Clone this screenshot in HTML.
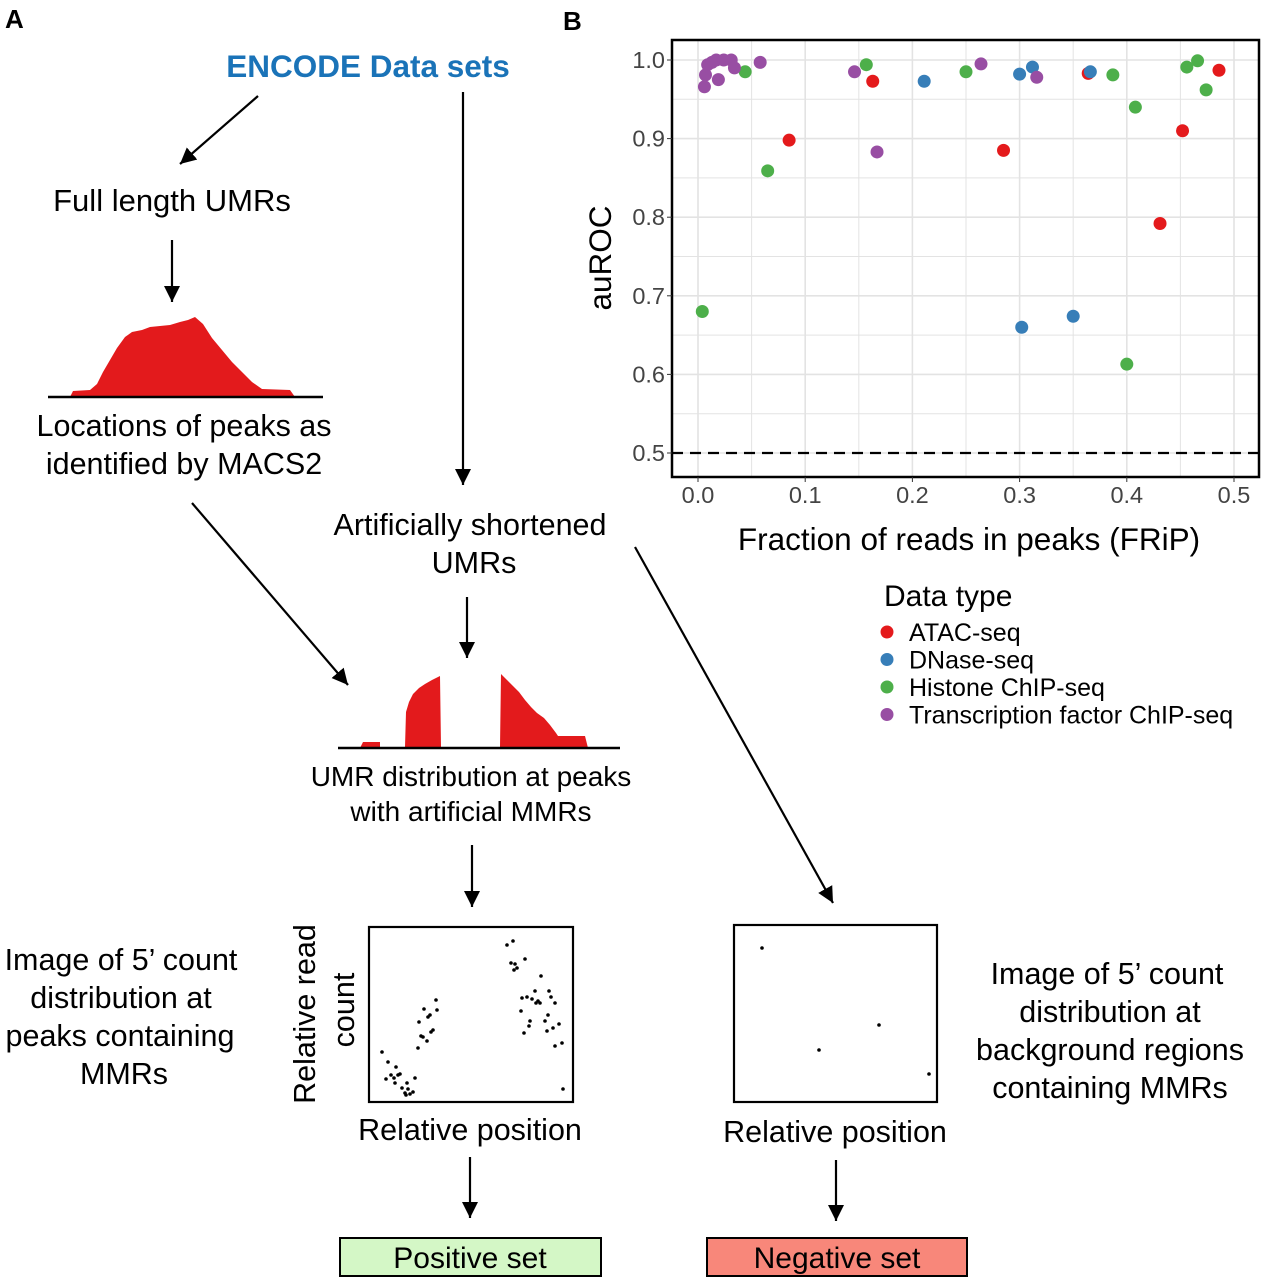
<!DOCTYPE html>
<html><head><meta charset="utf-8"><style>
body{margin:0;background:#fff}
svg{display:block;font-family:"Liberation Sans",Arial,sans-serif}
</style></head><body>
<svg id="fig" width="1263" height="1280" viewBox="0 0 1263 1280">
<defs>
<marker id="a2" viewBox="0 0 10 10" refX="10" refY="5" markerWidth="16" markerHeight="16" orient="auto" markerUnits="userSpaceOnUse"><path d="M0,0 L10,5 L0,10 Z" fill="#000"/></marker></defs>
<text x="5" y="28" font-size="26" font-weight="bold">A</text>
<text x="563" y="30" font-size="26" font-weight="bold">B</text>
<text x="368" y="77" font-size="31.5" font-weight="bold" fill="#1a73b8" text-anchor="middle">ENCODE Data sets</text>
<g stroke="#000" stroke-width="2.2" fill="none" marker-end="url(#a2)">
<line x1="258" y1="96" x2="180" y2="164"/><line x1="172" y1="240" x2="172" y2="302"/>
<line x1="463" y1="92" x2="463" y2="485"/><line x1="192" y1="503" x2="348" y2="685"/>
<line x1="467" y1="597" x2="467" y2="658"/><line x1="635" y1="547" x2="833" y2="903"/>
<line x1="472" y1="845" x2="472" y2="907"/><line x1="470" y1="1157" x2="470" y2="1218"/>
<line x1="836" y1="1160" x2="836" y2="1221"/></g>
<text x="172" y="211" font-size="31" text-anchor="middle">Full length UMRs</text>
<polygon fill="#e31a1c" points="70,397 73,391 90,390 97,384 103,372 110,360 117,348 125,337 132,332 142,330 150,327 160,326 170,325 180,322 188,320 195,317 203,324 212,338 222,350 232,362 242,372 252,382 262,389 290,390 295,397"/>
<line x1="48" y1="397" x2="323" y2="397" stroke="#000" stroke-width="2.5"/>
<text x="184" y="436" font-size="30.5" text-anchor="middle">Locations of peaks as</text>
<text x="184" y="474" font-size="30.5" text-anchor="middle">identified by MACS2</text>
<text x="470" y="535" font-size="30.5" text-anchor="middle">Artificially shortened</text>
<text x="474" y="573" font-size="30.5" text-anchor="middle">UMRs</text>
<polygon fill="#e31a1c" points="360,748 363,742 380,742 380,747 405,747 406,712 409,702 413,694 419,688 425,684 432,680 440,676 441,747 500,747 501,674 507,680 513,686 519,692 525,700 531,707 537,713 544,718 550,725 556,733 558,736 585,736 588,748"/>
<line x1="338" y1="748" x2="620" y2="748" stroke="#000" stroke-width="2.5"/>
<text x="471" y="786" font-size="28" text-anchor="middle">UMR distribution at peaks</text>
<text x="471" y="821" font-size="28" text-anchor="middle">with artificial MMRs</text>
<g font-size="30.5" text-anchor="middle">
<text x="121" y="970">Image of 5’ count</text><text x="121" y="1008">distribution at</text><text x="120" y="1046">peaks containing</text><text x="124" y="1084">MMRs</text></g>
<g font-size="30.5" text-anchor="middle">
<text x="1107" y="984">Image of 5’ count</text><text x="1110" y="1022">distribution at</text><text x="1110" y="1060">background regions</text><text x="1110" y="1098">containing MMRs</text></g>
<rect x="369" y="927" width="204" height="175" fill="none" stroke="#000" stroke-width="2.2"/>
<g id="posdots" fill="#000"></g>
<text transform="translate(315,1014) rotate(-90)" font-size="30.5" text-anchor="middle">Relative read</text>
<text transform="translate(354,1010) rotate(-90)" font-size="30.5" text-anchor="middle">count</text>
<text x="470" y="1140" font-size="30.5" text-anchor="middle">Relative position</text>
<rect x="734" y="925" width="203" height="177" fill="none" stroke="#000" stroke-width="2.2"/>
<g fill="#000"><circle cx="762" cy="948" r="1.8"/><circle cx="879" cy="1025" r="1.8"/><circle cx="819" cy="1050" r="1.8"/><circle cx="929" cy="1074" r="1.8"/></g>
<text x="835" y="1142" font-size="30.5" text-anchor="middle">Relative position</text>
<rect x="340" y="1238" width="261" height="38" fill="#d4f7c6" stroke="#000" stroke-width="2"/>
<text x="470" y="1268" font-size="30" text-anchor="middle">Positive set</text>
<rect x="707" y="1238" width="260" height="38" fill="#f8877a" stroke="#000" stroke-width="2"/>
<text x="837" y="1268" font-size="30" text-anchor="middle">Negative set</text>
<g id="chart"></g>
</svg>
<script>
const types=["ATAC-seq","DNase-seq","Histone ChIP-seq","Transcription factor ChIP-seq"];
const colors=["#e41a1c","#377eb8","#4daf4a","#984ea3"];
const xTicks=[0,0.1,0.2,0.3,0.4,0.5];
const yTicks=[0.5,0.6,0.7,0.8,0.9,1.0];
const atacX=[0.163,0.085,0.285,0.364,0.452,0.486,0.431];
const atacY=[0.973,0.898,0.885,0.983,0.910,0.987,0.792];
const dnaseX=[0.211,0.300,0.312,0.366,0.302,0.350];
const dnaseY=[0.973,0.982,0.991,0.985,0.660,0.674];
const histX=[0.157,0.044,0.065,0.004,0.250,0.387,0.408,0.456,0.466,0.474,0.400];
const histY=[0.994,0.985,0.859,0.680,0.985,0.981,0.940,0.991,0.999,0.962,0.613];
const tfX=[0.006,0.007,0.009,0.013,0.017,0.019,0.024,0.031,0.034,0.058,0.146,0.167,0.264,0.316];
const tfY=[0.966,0.981,0.994,0.997,1.000,0.975,1.000,1.000,0.990,0.997,0.985,0.883,0.995,0.978];
const posDots=[[22,132],[28,142],[36,147],[26,159],[31,155],[34,158],[38,155],[40,154],[35,163],[42,168],[45,173],[47,163],[48,169],[46,175],[50,174],[53,172],[55,158],[58,128],[59,102],[61,116],[63,117],[67,121],[64,89],[68,97],[70,95],[71,112],[73,110],[76,80],[77,90],[147,25],[153,21],[151,43],[155,44],[157,48],[154,50],[165,39],[181,56],[162,78],[167,77],[172,79],[175,71],[176,83],[178,81],[180,83],[189,71],[191,77],[195,83],[161,91],[170,101],[169,106],[164,113],[185,101],[188,95],[187,111],[193,108],[199,104],[195,126],[202,123],[203,169]];
const NS="http://www.w3.org/2000/svg";
function mk(t,a,p){const e=document.createElementNS(NS,t);for(const k in a)e.setAttribute(k,a[k]);p.appendChild(e);return e;}
const pd=document.getElementById('posdots');
posDots.forEach(d=>{const c=mk('circle',{cx:360+d[0],cy:920+d[1],r:1.8},pd);

});
const g=document.getElementById('chart');
const X0=672,X1=1259,Y0=40,Y1=477;
const sx=v=>698+v*1072, sy=v=>60+(1-v)*786;
mk('rect',{x:X0,y:Y0,width:X1-X0,height:Y1-Y0,fill:'#fff'},g);
for(let v=0;v<=0.5001;v+=0.05){mk('line',{x1:sx(v),x2:sx(v),y1:Y0,y2:Y1,stroke:'#e3e3e3','stroke-width':Math.round(v*100)%10?1:1.6},g);}
for(let v=0.45;v<=1.0501;v+=0.05){const y=sy(v);if(y<Y0||y>Y1)continue;mk('line',{x1:X0,x2:X1,y1:y,y2:y,stroke:'#e3e3e3','stroke-width':Math.round(v*100)%10?1:1.6},g);}
const ref=mk('line',{x1:X0,x2:X1,y1:sy(0.5),y2:sy(0.5),stroke:'#000','stroke-width':2.2,'stroke-dasharray':'11,7'},g);


const fr=mk('rect',{x:X0,y:Y0,width:X1-X0,height:Y1-Y0,fill:'none',stroke:'#000','stroke-width':2.5},g);


xTicks.forEach(v=>{mk('line',{x1:sx(v),x2:sx(v),y1:Y1,y2:Y1+5,stroke:'#333'},g);
const t=mk('text',{x:sx(v),y:503,'font-size':23.5,'text-anchor':'middle',fill:'#444'},g);t.textContent=v.toFixed(1);

});
yTicks.forEach(v=>{mk('line',{x1:X0-5,x2:X0,y1:sy(v),y2:sy(v),stroke:'#333'},g);
const t=mk('text',{x:665,y:sy(v)+8,'font-size':23.5,'text-anchor':'end',fill:'#444'},g);t.textContent=v.toFixed(1);

});
const xt=mk('text',{x:969,y:550,'font-size':31.5,'text-anchor':'middle'},g);xt.textContent='Fraction of reads in peaks (FRiP)';


const yt=mk('text',{transform:'translate(611,258) rotate(-90)','font-size':31.5,'text-anchor':'middle'},g);yt.textContent='auROC';


const series=[[atacX,atacY],[dnaseX,dnaseY],[histX,histY],[tfX,tfY]];
series.forEach((s,i)=>{s[0].forEach((xv,j)=>{const c=mk('circle',{cx:sx(xv),cy:sy(s[1][j]),r:6.5,fill:colors[i]},g);

});});
const lt=mk('text',{x:884,y:606,'font-size':30},g);lt.textContent='Data type';


types.forEach((t,i)=>{const y=632+i*27.5;
const c=mk('circle',{cx:887,cy:y,r:6.5,fill:colors[i]},g);


const tx=mk('text',{x:909,y:y+9,'font-size':25},g);tx.textContent=t;

});
</script>
</body></html>
